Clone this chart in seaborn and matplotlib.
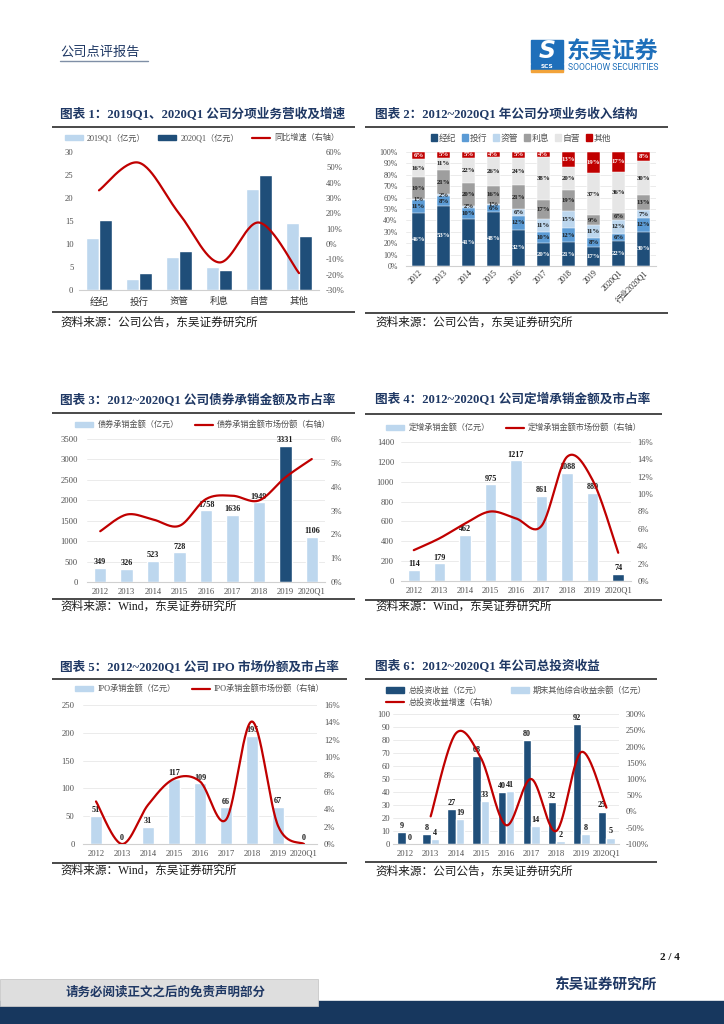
import numpy as np
import pandas as pd
import matplotlib
matplotlib.use('Agg')
import matplotlib.pyplot as plt
import seaborn as sns
from matplotlib.patches import Rectangle, Patch
from matplotlib.lines import Line2D
from matplotlib.ticker import FuncFormatter

# ---------------- data ----------------
c1_categories = ['经纪', '投行', '资管', '利息', '自营', '其他']
c1_rev_2019q1 = [11.2, 2.5, 7.1, 5.1, 22.0, 14.6]
c1_rev_2020q1 = [15.2, 3.8, 8.5, 4.4, 25.0, 11.8]
c1_growth = [35, 53, 20, -12, 14, -19]

c2_categories = ['2012', '2013', '2014', '2015', '2016', '2017', '2018', '2019', '2020Q1', '行业2020Q1']
c2_series = ['经纪', '投行', '资管', '利息', '自营', '其他']
c2_brokerage = [46, 53, 41, 48, 32, 20, 21, 17, 22, 30]
c2_ib = [11, 8, 10, 6, 12, 10, 12, 8, 6, 12]
c2_am = [1, 2, 2, 1, 6, 11, 15, 11, 12, 7]
c2_interest = [19, 21, 20, 16, 21, 17, 19, 9, 6, 13]
c2_prop = [16, 11, 22, 26, 24, 38, 20, 37, 36, 30]
c2_other = [6, 5, 5, 4, 5, 4, 13, 19, 17, 8]

years = ['2012', '2013', '2014', '2015', '2016', '2017', '2018', '2019', '2020Q1']
c3_bond_amount = [349, 326, 523, 728, 1758, 1636, 1949, 3331, 1106]
c3_bond_share = [2.13, 2.83, 2.62, 2.36, 3.48, 3.62, 3.42, 4.39, 5.16]
c4_sp_amount = [114, 179, 462, 975, 1217, 861, 1088, 889, 74]
c4_sp_share = [3.55, 4.9, 6.6, 8.0, 7.2, 6.35, 14.3, 11.6, 3.25]
c5_ipo_amount = [51, 0, 31, 117, 109, 66, 195, 67, 0]
c5_ipo_share = [4.9, 0.0, 4.5, 7.5, 7.2, 2.8, 14.1, 2.1, 0.0]
c6_inv_income = [9, 8, 27, 68, 40, 80, 32, 92, 25]
c6_oci_balance = [0, 4, 19, 33, 41, 14, 2, 8, 5]
c6_growth = [None, -15, 240, 165, -42, 100, -60, 183, 12]

# ---------------- style ----------------
sns.set_theme(style='white')
plt.rcParams['font.family'] = ['Liberation Serif', 'Noto Sans CJK SC', 'DejaVu Sans']
plt.rcParams['axes.unicode_minus'] = False

NAVY = '#1F3864'
DARK = '#1F4E79'
LIGHT = '#BDD7EE'
MID = '#5B9BD5'
RED = '#C00000'
GREY_T = '#505050'
CJK = ['Noto Sans CJK SC', 'DejaVu Sans']

W, H = 724, 1024
fig = plt.figure(figsize=(W / 100, H / 100), dpi=100)
fig.patch.set_facecolor('white')

bg = fig.add_axes([0, 0, 1, 1])
bg.set_xlim(0, W)
bg.set_ylim(H, 0)
bg.axis('off')


def axes_px(x0, y0, x1, y1):
    a = fig.add_axes([x0 / W, 1 - y1 / H, (x1 - x0) / W, (y1 - y0) / H])
    a.set_facecolor('none')
    return a


def fx(x):
    return x / W


def fy(y):
    return 1 - y / H


def hline(x0, x1, y, lw=1.3, color='#3A3A3A'):
    bg.plot([x0, x1], [y, y], color=color, lw=lw, solid_capstyle='butt')


def title(x, y, s):
    bg.text(x, y, s, fontsize=9.1, fontweight='bold', color=NAVY, va='center', ha='left')


def source(x, y, s):
    bg.text(x, y, s, fontsize=8.4, color='#1A1A1A', va='center', ha='left')


def smooth(xs, ys, n=30):
    xs = np.asarray(xs, float)
    ys = np.asarray(ys, float)
    m = len(xs)
    outx, outy = [], []
    for i in range(m - 1):
        x0, y0, x1, y1 = xs[i], ys[i], xs[i + 1], ys[i + 1]
        xm, ym = (xs[i - 1], ys[i - 1]) if i > 0 else (x0, y0)
        xp, yp = (xs[i + 2], ys[i + 2]) if i + 2 < m else (x1, y1)
        c1x, c1y = x0 + (x1 - xm) / 6, y0 + (y1 - ym) / 6
        c2x, c2y = x1 - (xp - x0) / 6, y1 - (yp - y0) / 6
        t = np.linspace(0, 1, n, endpoint=(i == m - 2))
        b0, b1, b2, b3 = (1 - t) ** 3, 3 * (1 - t) ** 2 * t, 3 * (1 - t) * t ** 2, t ** 3
        outx.append(b0 * x0 + b1 * c1x + b2 * c2x + b3 * x1)
        outy.append(b0 * y0 + b1 * c1y + b2 * c2y + b3 * y1)
    return np.concatenate(outx), np.concatenate(outy)


def style_axes(ax, n, ticklabels, grid=True, minor=True, lpad=3, xpad=4):
    ax.set_xlim(-0.5, n - 0.5)
    ax.set_xticks(np.arange(n))
    ax.set_xticklabels(ticklabels)
    ax.set_xlabel('')
    ax.set_ylabel('')
    for s in ['top', 'left', 'right']:
        ax.spines[s].set_visible(False)
    ax.spines['bottom'].set_color('#D0D0D0')
    ax.spines['bottom'].set_linewidth(0.8)
    ax.tick_params(axis='y', length=0, labelsize=6.2, labelcolor=GREY_T, pad=lpad)
    ax.tick_params(axis='x', which='major', length=0, labelsize=6.2, labelcolor=GREY_T, pad=xpad)
    if minor:
        ax.set_xticks(np.arange(-0.5, n, 1.0), minor=True)
        ax.tick_params(axis='x', which='minor', length=3, width=0.6, color='#D0D0D0', direction='out')
    if grid:
        ax.yaxis.grid(True, color='#E8E8E8', lw=0.6)
        ax.set_axisbelow(True)


def style_twin(ax2, rpad=4):
    for s in ['top', 'left', 'right', 'bottom']:
        ax2.spines[s].set_visible(False)
    ax2.tick_params(axis='y', length=0, labelsize=6.2, labelcolor=GREY_T, pad=rpad)
    ax2.set_xlabel('')
    ax2.set_ylabel('')
    ax2.grid(False)
    ax2.yaxis.set_major_formatter(FuncFormatter(lambda v, p: f'{v:.0f}%'))


def single_bars(ax, values, hl_index, width):
    n = len(values)
    df = pd.DataFrame({'x': np.arange(n), 'y': values, 'c': [str(i) for i in range(n)]})
    pal = [DARK if i == hl_index else LIGHT for i in range(n)]
    sns.barplot(data=df, x='x', y='y', hue='c', palette=pal, dodge=False, native_scale=True,
                width=width, legend=False, errorbar=None, saturation=1, ax=ax)
    for i, v in enumerate(values):
        ax.annotate(f'{v}', (i, v), xytext=(0, 1.2), textcoords='offset points', ha='center',
                    va='bottom', fontsize=5.9, fontweight='bold', color='#1A1A1A')


def red_line(ax2, xs, ys):
    sx, sy = smooth(xs, ys)
    sns.lineplot(x=sx, y=sy, ax=ax2, color=RED, lw=1.6, sort=False, estimator=None)


# ---------------- page header ----------------
bg.text(60, 52, '公司点评报告', fontsize=9.5, color=NAVY, va='center', ha='left', family=CJK)
bg.plot([60, 148], [60.5, 60.5], color='#7F8FA6', lw=1.0)
bg.add_patch(Rectangle((531, 40), 32, 23, color='#1E6FBA'))
bg.text(547, 51.5, 'S', fontsize=17, color='white', fontweight='bold', style='italic',
        ha='center', va='center', family=['DejaVu Sans'])
bg.add_patch(Rectangle((531, 64), 32, 5.5, color='#1E6FBA'))
bg.text(547, 66.8, 'SCS', fontsize=4.2, color='white', fontweight='bold', ha='center', va='center',
        family=['DejaVu Sans'])
bg.add_patch(Rectangle((531, 70), 32, 2.2, color='#F2A33A'))
bg.text(567, 51, '东吴证券', fontsize=16.5, color='#1E6FBA', fontweight='bold', va='center', ha='left',
        family=CJK)
bg.text(568, 67.5, 'SOOCHOW SECURITIES', fontsize=6.2, color='#1E6FBA', va='center', ha='left',
        family=['Roboto', 'DejaVu Sans'])

# ---------------- panel 1 ----------------
title(60, 115, '图表 1：2019Q1、2020Q1 公司分项业务营收及增速')
hline(52, 355, 126.5)
hline(52, 355, 312)
source(60, 323, '资料来源：公司公告，东吴证券研究所')

ax1 = axes_px(79, 152, 319, 290)
df1 = pd.DataFrame({
    'x': np.tile(np.arange(len(c1_categories)), 2),
    'y': c1_rev_2019q1 + c1_rev_2020q1,
    's': ['2019Q1（亿元）'] * 6 + ['2020Q1（亿元）'] * 6,
})
sns.barplot(data=df1, x='x', y='y', hue='s', palette=[LIGHT, DARK], native_scale=True, width=0.65,
            gap=0, errorbar=None, saturation=1, legend=False, ax=ax1)
style_axes(ax1, 6, c1_categories, grid=False, minor=False, lpad=4, xpad=5)
ax1.set_ylim(0, 30)
ax1.set_yticks(range(0, 31, 5))
for lab in ax1.get_xticklabels():
    lab.set_fontsize(6.8)
    lab.set_color('#333333')
ax1b = ax1.twinx()
red_line(ax1b, np.arange(6), c1_growth)
ax1b.set_ylim(-30, 60)
ax1b.set_yticks(range(-30, 61, 10))
style_twin(ax1b, rpad=5)
ax1b.set_xlim(-0.5, 5.5)
h1 = [Patch(color=LIGHT), Patch(color=DARK), Line2D([], [], color=RED, lw=1.6)]
fig.legend(h1, ['2019Q1（亿元）', '2020Q1（亿元）', '同比增速（右轴）'], loc='center',
           bbox_to_anchor=(fx(202), fy(138)), ncol=3, frameon=False, fontsize=5.9,
           handlelength=2.2, handleheight=0.6, handletextpad=0.5, columnspacing=1.6,
           labelcolor=GREY_T)

# ---------------- panel 2 ----------------
title(375, 115, '图表 2：2012~2020Q1 年公司分项业务收入结构')
hline(365, 668, 126.5)
hline(365, 668, 313)
source(375, 323, '资料来源：公司公告，东吴证券研究所')

ax2 = axes_px(406, 152, 656, 266)
series_vals = [c2_brokerage, c2_ib, c2_am, c2_interest, c2_prop, c2_other]
series_cols = [DARK, MID, LIGHT, '#9E9E9E', '#E6E6E6', RED]
arr = np.array(series_vals, float)
norm = arr / arr.sum(axis=0) * 100
cum = np.cumsum(norm, axis=0)
n2 = len(c2_categories)
for k in range(5, -1, -1):
    sns.barplot(x=np.arange(n2), y=cum[k], color=series_cols[k], native_scale=True, width=0.54,
                errorbar=None, saturation=1, edgecolor='white', linewidth=0.35, ax=ax2)
for k in range(6):
    tc = 'white' if k in (0, 5) else '#1A1A1A'
    for i in range(n2):
        yc = cum[k, i] - norm[k, i] / 2
        ax2.text(i, yc, f'{series_vals[k][i]}%', ha='center', va='center', fontsize=4.9,
                 fontweight='bold', color=tc)
style_axes(ax2, n2, c2_categories, grid=True, minor=False, lpad=6, xpad=2)
ax2.set_ylim(0, 100)
ax2.set_yticks(range(0, 101, 10))
ax2.yaxis.set_major_formatter(FuncFormatter(lambda v, p: f'{v:.0f}%'))
ax2.tick_params(axis='y', labelsize=5.7)
for lab in ax2.get_xticklabels():
    lab.set_rotation(45)
    lab.set_ha('right')
    lab.set_rotation_mode('anchor')
    lab.set_fontsize(5.8)
    lab.set_color('#262626')
h2 = [Patch(color=c) for c in series_cols]
fig.legend(h2, c2_series, loc='center', bbox_to_anchor=(fx(521), fy(138)), ncol=6, frameon=False,
           handlelength=0.7, handleheight=0.7, handletextpad=0.15, columnspacing=0.7,
           labelcolor=GREY_T, prop={'family': CJK, 'size': 6.3})

# ---------------- panel 3 ----------------
title(60, 400, '图表 3：2012~2020Q1 公司债券承销金额及市占率')
hline(52, 355, 413)
hline(52, 355, 599)
source(60, 607, '资料来源：Wind，东吴证券研究所')

ax3 = axes_px(87, 439, 325, 582)
single_bars(ax3, c3_bond_amount, 7, 0.47)
style_axes(ax3, 9, years, lpad=6.5, xpad=4)
ax3.set_ylim(0, 3500)
ax3.set_yticks(range(0, 3501, 500))
ax3b = ax3.twinx()
red_line(ax3b, np.arange(9), c3_bond_share)
ax3b.set_ylim(0, 6)
ax3b.set_yticks(range(0, 7))
style_twin(ax3b, rpad=4)
ax3b.set_xlim(-0.5, 8.5)
fig.legend([Patch(color=LIGHT), Line2D([], [], color=RED, lw=1.6)],
           ['债券承销金额（亿元）', '债券承销金额市场份额（右轴）'], loc='center',
           bbox_to_anchor=(fx(203), fy(425)), ncol=2, frameon=False, fontsize=5.9,
           handlelength=2.2, handleheight=0.6, handletextpad=0.5, columnspacing=2.0,
           labelcolor=GREY_T)

# ---------------- panel 4 ----------------
title(375, 400, '图表 4：2012~2020Q1 公司定增承销金额及市占率')
hline(365, 662, 414)
hline(365, 662, 600)
source(375, 607, '资料来源：Wind，东吴证券研究所')

ax4 = axes_px(401, 442, 631, 581)
single_bars(ax4, c4_sp_amount, 8, 0.45)
style_axes(ax4, 9, years, lpad=5, xpad=4)
ax4.set_ylim(0, 1400)
ax4.set_yticks(range(0, 1401, 200))
ax4b = ax4.twinx()
red_line(ax4b, np.arange(9), c4_sp_share)
ax4b.set_ylim(0, 16)
ax4b.set_yticks(range(0, 17, 2))
style_twin(ax4b, rpad=4.5)
ax4b.set_xlim(-0.5, 8.5)
fig.legend([Patch(color=LIGHT), Line2D([], [], color=RED, lw=1.6)],
           ['定增承销金额（亿元）', '定增承销金额市场份额（右轴）'], loc='center',
           bbox_to_anchor=(fx(514), fy(428)), ncol=2, frameon=False, fontsize=5.9,
           handlelength=2.2, handleheight=0.6, handletextpad=0.5, columnspacing=2.0,
           labelcolor=GREY_T)

# ---------------- panel 5 ----------------
title(60, 667, '图表 5：2012~2020Q1 公司 IPO 市场份额及市占率')
hline(52, 347, 679)
hline(52, 347, 863)
source(60, 871, '资料来源：Wind，东吴证券研究所')

ax5 = axes_px(83, 705, 317, 844)
single_bars(ax5, c5_ipo_amount, -1, 0.45)
style_axes(ax5, 9, years, lpad=6, xpad=4)
ax5.set_ylim(0, 250)
ax5.set_yticks(range(0, 251, 50))
ax5b = ax5.twinx()
red_line(ax5b, np.arange(9), c5_ipo_share)
ax5b.set_ylim(0, 16)
ax5b.set_yticks(range(0, 17, 2))
style_twin(ax5b, rpad=5)
ax5b.set_xlim(-0.5, 8.5)
fig.legend([Patch(color=LIGHT), Line2D([], [], color=RED, lw=1.6)],
           ['IPO承销金额（亿元）', 'IPO承销金额市场份额（右轴）'], loc='center',
           bbox_to_anchor=(fx(200), fy(689)), ncol=2, frameon=False, fontsize=5.9,
           handlelength=2.2, handleheight=0.6, handletextpad=0.5, columnspacing=2.0,
           labelcolor=GREY_T)

# ---------------- panel 6 ----------------
title(375, 667, '图表 6：2012~2020Q1 年公司总投资收益')
hline(365, 657, 679)
hline(365, 657, 862)
source(375, 872, '资料来源：公司公告，东吴证券研究所')

ax6 = axes_px(393, 714, 619, 844)
df6 = pd.DataFrame({
    'x': np.tile(np.arange(9), 2),
    'y': c6_inv_income + c6_oci_balance,
    's': ['总投资收益（亿元）'] * 9 + ['期末其他综合收益余额（亿元）'] * 9,
})
sns.barplot(data=df6, x='x', y='y', hue='s', palette=[DARK, LIGHT], native_scale=True, width=0.67,
            gap=0, errorbar=None, saturation=1, legend=False, ax=ax6)
for i in range(9):
    ax6.annotate(f'{c6_inv_income[i]}', (i - 0.1675, c6_inv_income[i]), xytext=(0, 1.5),
                 textcoords='offset points', ha='center', va='bottom', fontsize=5.9,
                 fontweight='bold', color='#1A1A1A')
    ax6.annotate(f'{c6_oci_balance[i]}', (i + 0.1675, c6_oci_balance[i]), xytext=(0, 1.5),
                 textcoords='offset points', ha='center', va='bottom', fontsize=5.9,
                 fontweight='bold', color='#1A1A1A')
style_axes(ax6, 9, years, lpad=2, xpad=4)
ax6.set_ylim(0, 100)
ax6.set_yticks(range(0, 101, 10))
ax6b = ax6.twinx()
gx = [i for i, g in enumerate(c6_growth) if g is not None]
gy = [g for g in c6_growth if g is not None]
red_line(ax6b, gx, gy)
ax6b.set_ylim(-100, 300)
ax6b.set_yticks(range(-100, 301, 50))
style_twin(ax6b, rpad=5)
ax6b.set_xlim(-0.5, 8.5)
fig.legend([Patch(color=DARK), Line2D([], [], color=RED, lw=1.6), Patch(color=LIGHT)],
           ['总投资收益（亿元）', '总投资收益增速（右轴）', '期末其他综合收益余额（亿元）'],
           loc='upper left', bbox_to_anchor=(fx(383), fy(683)), ncol=2, frameon=False,
           fontsize=5.9, handlelength=2.2, handleheight=0.6, handletextpad=0.5,
           columnspacing=1.6, labelspacing=0.45, labelcolor=GREY_T, borderaxespad=0)

# ---------------- footer ----------------
bg.text(680, 958, '2 / 4', fontsize=8, fontweight='bold', color='#1A1A1A', ha='right', va='center')
bg.add_patch(Rectangle((0, 1001), W, 23, color='#17375E', zorder=1))
bg.add_patch(Rectangle((0, 979), 318, 27, facecolor='#DEDEDE', edgecolor='#C8C8C8', lw=0.6, zorder=2))
bg.text(166, 992.5, '请务必阅读正文之后的免责声明部分', fontsize=9, fontweight='bold', color=NAVY,
        ha='center', va='center', family=CJK, zorder=3)
bg.text(605, 985, '东吴证券研究所', fontsize=10.5, fontweight='bold', color=NAVY, ha='center',
        va='center', family=CJK)

fig.savefig('out.png', dpi=100, facecolor='white')
